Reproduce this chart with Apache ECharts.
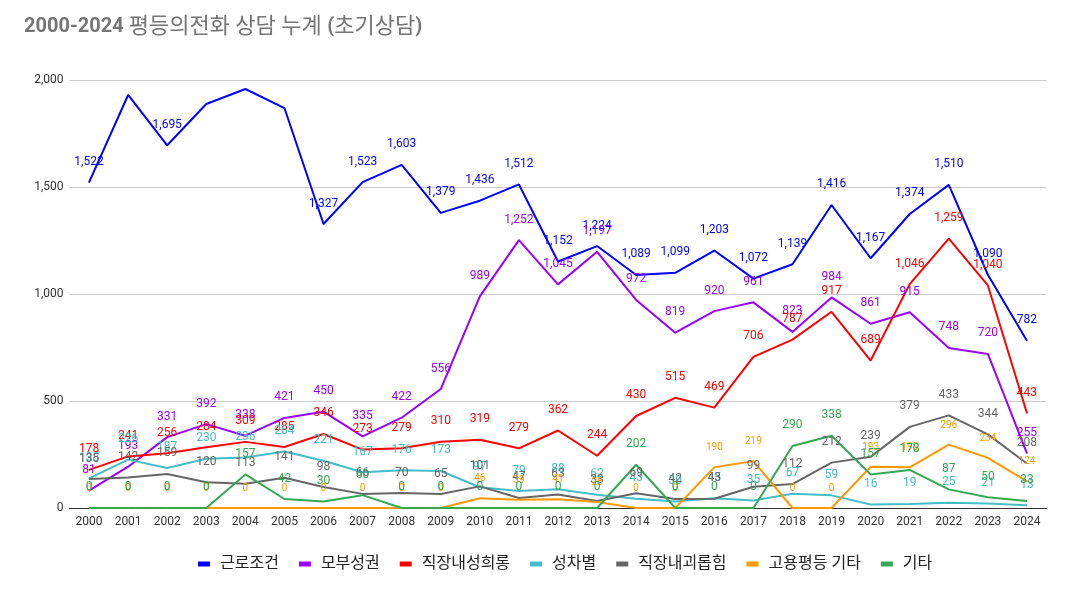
<!DOCTYPE html>
<html>
<head>
<meta charset="utf-8">
<script src="https://cdn.jsdelivr.net/npm/echarts@6/dist/echarts.min.js"></script>
<style>
  html, body { margin: 0; padding: 0; background: #fff; }
  #chart { width: 1077px; height: 592px; }
</style>
</head>
<body>
<div id="chart"></div>
<script>
const years = ["2000","2001","2002","2003","2004","2005","2006","2007","2008","2009","2010","2011","2012",
  "2013","2014","2015","2016","2017","2018","2019","2020","2021","2022","2023","2024"];

const workCond = [1522,1930,1695,1888,1958,1869,1327,1523,1603,1379,1436,1512,1152,1224,1089,1099,1203,1072,1139,1416,1167,1374,1510,1090,782];
const parental = [81,193,331,392,338,421,450,335,422,556,989,1252,1045,1197,972,819,920,961,823,984,861,915,748,720,255];
const sexHarass = [178,241,256,284,309,285,346,273,279,310,319,279,362,244,430,515,469,706,787,917,689,1046,1259,1040,443];
const genderDisc = [138,226,187,230,236,264,221,167,176,173,97,79,88,62,43,30,45,35,67,59,16,19,25,21,13];
const bullying = [135,142,159,120,113,141,98,66,70,65,101,47,63,33,69,42,43,99,112,212,239,379,433,344,208];
const equalEtc = [0,0,0,0,0,0,0,0,0,0,46,39,41,28,0,0,190,219,0,0,193,190,296,234,124];
const etc = [0,0,0,0,157,42,30,60,0,0,0,0,0,0,202,0,0,0,290,338,157,178,87,50,33];

// labels not drawn in the original
const hiddenWorkLabels = [1, 3, 4, 5];

const names = ["근로조건", "모부성권", "직장내성희롱", "성차별", "직장내괴롭힘", "고용평등 기타", "기타"];
const colors = ["#0000ff", "#9900ff", "#ff0000", "#46bdc6", "#666666", "#ff9900", "#34a853"];

const fontFamily = "Roboto, 'Noto Sans CJK KR', sans-serif";

const makeSeries = (name, values, color, labelSize, hidden) => ({
  name: name,
  type: "line",
  data: values.map((v, i) =>
    hidden && hidden.includes(i) ? { value: v, label: { show: false } } : v
  ),
  symbol: "circle",
  symbolSize: 1,
  lineStyle: { color: color, width: 2 },
  itemStyle: { color: color },
  label: {
    show: true,
    position: "top",
    distance: 14,
    color: color,
    fontSize: labelSize,
    fontFamily: fontFamily,
    formatter: (p) => Number(p.value).toLocaleString("en-US"),
  },
  emphasis: { disabled: true },
  animation: false,
});

const chart = echarts.init(document.getElementById("chart"));
chart.setOption({
  animation: false,
  color: colors,
  title: {
    text: "{b|2000-2024} {n|평등의전화 상담 누계 }{b|(}{n|초기상담}{b|)}",
    left: 19,
    top: 11,
    textStyle: {
      rich: {
        b: { fontSize: 20, fontWeight: "bold", color: "#757575", fontFamily: fontFamily },
        n: { fontSize: 22, fontWeight: "normal", color: "#757575", fontFamily: fontFamily },
      },
    },
  },
  legend: {
    bottom: 15,
    left: 193,
    icon: "rect",
    itemWidth: 12,
    itemHeight: 5,
    itemGap: 20,
    textStyle: { color: "#222", fontSize: 16, fontFamily: fontFamily, padding: [0, 0, 0, 5] },
    data: names,
  },
  grid: {
    left: 69.5,
    right: 30.5,
    top: 80,
    bottom: 84,
    containLabel: false,
  },
  xAxis: {
    type: "category",
    data: years,
    axisLine: { show: true, lineStyle: { color: "#333", width: 1 } },
    axisTick: { show: false },
    axisLabel: { color: "#333", fontSize: 12, fontFamily: fontFamily, margin: 8 },
    splitLine: { show: false },
  },
  yAxis: {
    type: "value",
    min: 0,
    max: 2000,
    interval: 500,
    axisLine: { show: false },
    axisTick: { show: false },
    axisLabel: {
      color: "#333",
      fontSize: 12,
      fontFamily: fontFamily,
      margin: 6,
      formatter: (v) => v.toLocaleString("en-US"),
    },
    splitLine: { lineStyle: { color: "#cccccc", width: 1 } },
  },
  series: [
    makeSeries(names[0], workCond, colors[0], 12, hiddenWorkLabels),
    makeSeries(names[1], parental, colors[1], 12),
    makeSeries(names[2], sexHarass, colors[2], 12),
    makeSeries(names[3], genderDisc, colors[3], 12),
    makeSeries(names[4], bullying, colors[4], 12),
    makeSeries(names[5], equalEtc, colors[5], 10),
    makeSeries(names[6], etc, colors[6], 12),
  ],
});
</script>
</body>
</html>
